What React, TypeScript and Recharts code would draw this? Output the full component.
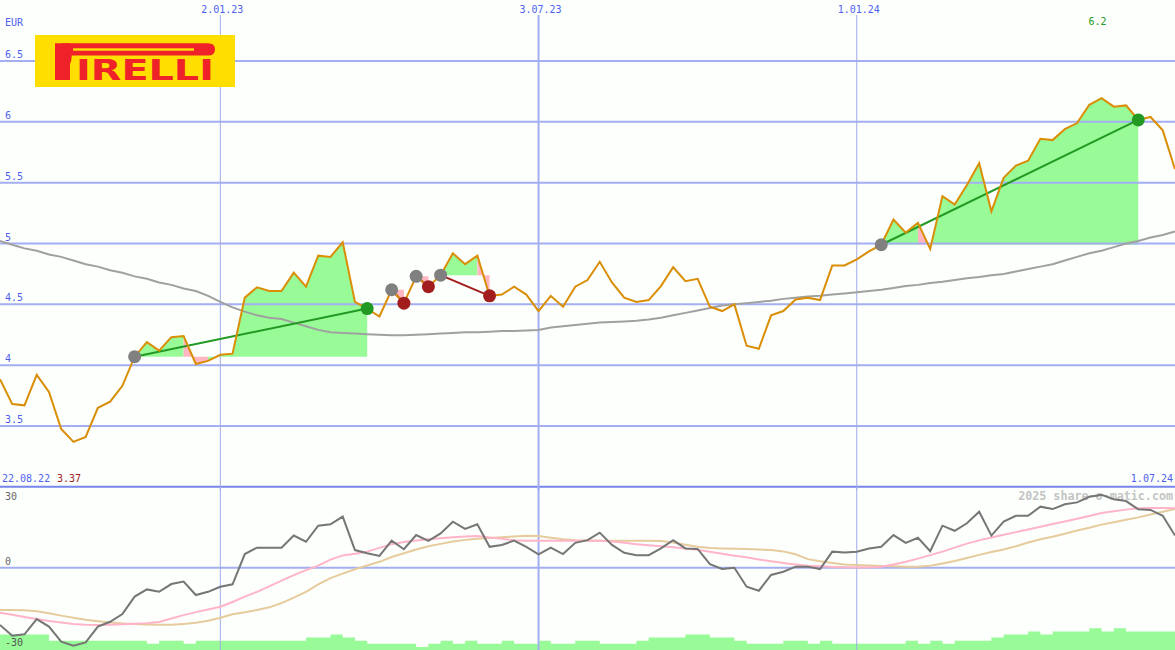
import React from 'react';
import { ComposedChart, Line, Area, XAxis, YAxis, ReferenceLine, ReferenceDot } from 'recharts';

// ---------------- data ----------------
const currency = 'EUR';
const logoText = ['P', 'IRELLI'];
const startLabel = '22.08.22';
const endLabel = '1.07.24';
const watermark = '2025 share-o-matic.com';

const dateTicks = [
  { week: 18, label: '2.01.23', major: false },
  { week: 44, label: '3.07.23', major: true },
  { week: 70, label: '1.01.24', major: false },
];
const priceLevels = [3.5, 4, 4.5, 5, 5.5, 6, 6.5];
const priceLevelLabels = ['3.5', '4', '4.5', '5', '5.5', '6', '6.5'];
const oscLevelLabels = ['30', '0', '-30'];

// weekly close (EUR)
const price = [
  3.885, 3.68, 3.67, 3.92, 3.78, 3.475, 3.37, 3.41, 3.65, 3.7,
  3.83, 4.07, 4.19, 4.12, 4.23, 4.24, 4.01, 4.035, 4.085, 4.095,
  4.555, 4.64, 4.61, 4.61, 4.76, 4.645, 4.9, 4.89, 5.01, 4.52,
  4.465, 4.4, 4.62, 4.51, 4.73, 4.645, 4.74, 4.92, 4.83, 4.9,
  4.57, 4.58, 4.645, 4.58, 4.445, 4.57, 4.48, 4.645, 4.7, 4.85,
  4.68, 4.555, 4.52, 4.535, 4.65, 4.805, 4.69, 4.71, 4.48, 4.445,
  4.5, 4.16, 4.135, 4.41, 4.445, 4.54, 4.555, 4.535, 4.82, 4.82,
  4.87, 4.935, 4.99, 5.197, 5.09, 5.17, 4.955, 5.39, 5.32, 5.48,
  5.66, 5.265, 5.54, 5.64, 5.68, 5.86, 5.85, 5.94, 5.99, 6.14,
  6.195, 6.125, 6.135, 6.016, 6.04, 5.93, 5.61,
];

// long moving average
const avgPrice = [
  5.02, 4.99, 4.96, 4.94, 4.91, 4.89, 4.86, 4.83, 4.81, 4.78,
  4.76, 4.73, 4.71, 4.68, 4.66, 4.63, 4.61, 4.57, 4.52, 4.475,
  4.44, 4.41, 4.39, 4.38, 4.35, 4.32, 4.29, 4.27, 4.265, 4.26,
  4.255, 4.25, 4.245, 4.245, 4.25, 4.255, 4.26, 4.265, 4.27, 4.27,
  4.275, 4.28, 4.28, 4.285, 4.29, 4.31, 4.32, 4.33, 4.34, 4.35,
  4.355, 4.36, 4.365, 4.375, 4.39, 4.41, 4.43, 4.45, 4.47, 4.49,
  4.5, 4.51, 4.52, 4.53, 4.545, 4.555, 4.565, 4.57, 4.58, 4.59,
  4.6, 4.61, 4.62, 4.635, 4.65, 4.66, 4.675, 4.685, 4.7, 4.715,
  4.725, 4.74, 4.75, 4.77, 4.79, 4.81, 4.83, 4.86, 4.89, 4.92,
  4.94, 4.97, 5.0, 5.02, 5.05, 5.07, 5.1,
];

// oscillator
const osc = [
  -21.4, -25.4, -24.9, -19.2, -22, -27.6, -29.1, -27.9, -22, -20.2,
  -17.3, -10.8, -8.1, -9, -6.1, -5.2, -10.2, -9, -7.1, -6.2,
  5.1, 7.5, 7.5, 7.5, 12, 9.7, 15.7, 16.2, 19.1, 6.6,
  5.4, 4.4, 10.1, 6.9, 12.2, 10, 12.8, 17.2, 14.5, 16.2,
  7.8, 8.5, 10.1, 7.8, 5, 7.5, 5.1, 9.3, 10.3, 13.1,
  8.5, 5.6, 4.7, 4.7, 7.2, 10.3, 7.2, 7, 1.3, -0.5,
  0, -7.1, -8.6, -2.7, -1.5, 0.4, 0.4, -0.5, 6, 5.7,
  6, 7.2, 7.8, 12.2, 9.3, 11.2, 6.2, 15.7, 13.8, 16.6,
  20.9, 12, 17.2, 19.4, 19.4, 22.8, 21.9, 23.7, 24.4, 26.5,
  27.2, 25.6, 24.9, 21.8, 21.6, 19.4, 12,
];
const oscFast = [
  -16.8, -17.6, -18.4, -19.2, -19.9, -20.5, -21.0, -21.3, -21.4, -21.3,
  -21.1, -20.9, -20.7, -20.3, -19.0, -17.7, -16.6, -15.6, -14.6, -12.8,
  -10.8, -9.0, -7.0, -4.8, -2.8, -0.9, 0.8, 3.0, 4.6, 5.2,
  6.0, 7.4, 8.8, 9.6, 10.2, 10.6, 11.0, 11.4, 11.7, 11.8,
  11.3, 10.8, 10.3, 10.1, 10.1, 10.1, 10.1, 10.1, 10.1, 10.1,
  9.8, 9.3, 8.8, 8.4, 8.0, 7.6, 7.2, 6.7, 6.0, 5.2,
  4.5, 3.9, 3.1, 2.4, 1.8, 1.2, 0.7, 0.5, 0.3, 0.2,
  0.1, 0.2, 0.4, 1.2, 2.2, 3.4, 4.7, 6.0, 7.5, 9.0,
  10.2, 11.3, 12.3, 13.3, 14.3, 15.3, 16.3, 17.3, 18.3, 19.3,
  20.4, 21.1, 21.7, 22.2, 22.3, 22.3, 22.2,
];
const oscSlow = [
  -15.8, -15.8, -15.9, -16.3, -17.0, -17.9, -18.7, -19.4, -20.0, -20.5,
  -20.8, -21.0, -21.2, -21.3, -21.3, -21.0, -20.6, -19.8, -18.7, -17.4,
  -16.6, -15.8, -14.8, -13.2, -11.2, -9.0, -6.2, -3.9, -2.2, -0.6,
  0.8, 2.2, 4.0, 5.4, 6.8, 8.0, 8.9, 9.8, 10.4, 10.8,
  11.1, 11.4, 11.7, 11.9, 11.8, 11.2, 10.6, 10.3, 10.2, 10.1,
  10.1, 10.1, 10.1, 10.1, 10.0, 9.4, 8.6, 7.8, 7.4, 7.2,
  7.1, 7.0, 6.8, 6.6, 6.1, 5.0, 3.2, 2.4, 1.8, 1.2,
  1.0, 0.8, 0.6, 0.5, 0.4, 0.4, 0.7, 1.6, 2.5, 3.6,
  4.8, 5.9, 6.8, 8.0, 9.4, 10.6, 11.6, 12.7, 13.9, 14.9,
  16.1, 17.0, 17.9, 18.8, 19.9, 20.9, 21.9,
];
// relative volume
const volume = [
  5, 5, 5, 5, 3, 3, 3, 3, 3, 3,
  3, 3, 2, 3, 3, 2, 3, 3, 3, 3,
  3, 3, 3, 3, 3, 4, 4, 5, 4, 3,
  2, 2, 2, 2, 1, 2, 3, 2, 3, 2,
  2, 3, 2, 2, 3, 2, 2, 3, 3, 2,
  2, 2, 3, 4, 4, 4, 5, 5, 4, 4,
  3, 2, 2, 2, 3, 3, 2, 3, 2, 2,
  2, 2, 2, 2, 3, 2, 3, 2, 3, 3,
  3, 4, 5, 5, 6, 5, 6, 6, 6, 7,
  6, 7, 6, 6, 6, 6, 6,
];
// trades (week index of entry / exit)
const trades = [
  { entry: 11, exit: 30 },
  { entry: 32, exit: 33 },
  { entry: 34, exit: 35 },
  { entry: 36, exit: 40 },
  { entry: 72, exit: 93 },
];

// ---------------- layout / style ----------------
const W = 1175;
const TOP_H = 490;
const EUR_PX = 121.67;
const Y_MAX = 7.0014;
const Y_MIN = Y_MAX - TOP_H / EUR_PX;
const X_MAX = price.length - 1;
const BOT_TOP = 487;
const BOT_H = 163;
const OSC_PX = 2.677;
const OSC_MAX = 30.15;
const OSC_MIN = OSC_MAX - BOT_H / OSC_PX;
const VOL_MAX = BOT_H / 3.1;

const BG = '#fcfffc';
const GRID = '#a4aef2';
const GRID_THIN = '#a2a9ea';
const SEP = '#7886ec';
const BLUE = '#4f5ff0';
const GREEN_FILL = '#98fb98';
const PINK_FILL = '#ffb6c1';
const WIN = '#229922';
const LOSS = '#a21d1d';
const ENTRY = '#808080';
const LOGO_RED = '#ee2228';
const LOGO_YELLOW = '#ffde00';
const MONO = '"DejaVu Sans Mono", monospace';

// ---------------- derived table ----------------
type Run = { key: string; color: string; start: number; end: number; level: number };
const runs: Run[] = [];
trades.forEach((t) => {
  const L = price[t.entry];
  let cur: Run | null = null;
  for (let j = t.entry; j < t.exit; j++) {
    const color = price[j + 1] >= L ? GREEN_FILL : PINK_FILL;
    if (!cur || cur.color !== color) {
      if (cur) runs.push(cur);
      cur = { key: `f${runs.length}`, color, start: j, end: j + 1, level: L };
    } else {
      cur.end = j + 1;
    }
  }
  if (cur) runs.push(cur);
});

const rows = price.map((p, i) => {
  const r: Record<string, any> = {
    week: i,
    price: p,
    avg: avgPrice[i],
    osc: osc[i],
    fast: oscFast[i],
    slow: oscSlow[i],
    vol: volume[i],
  };
  runs.forEach((run) => {
    r[run.key] = i >= run.start && i <= run.end ? [run.level, p] : null;
  });
  trades.forEach((t, k) => {
    r[`t${k}`] = i === t.entry || i === t.exit ? p : null;
  });
  return r;
});

const maxIdx = price.indexOf(Math.max(...price));
const minVal = Math.min(...price);

export default function App() {
  const topLineY = Y_MAX - 15 / EUR_PX;
  return (
    <div style={{ position: 'absolute', left: 0, top: 0, width: W, height: 650, background: BG, overflow: 'hidden' }}>
      <svg width={W} height={650} style={{ position: 'absolute', left: 0, top: 0 }}>
        <text x={1173} y={500} textAnchor="end" fontFamily={MONO} fontWeight="bold" fontSize={11.7} fill="#c4c4c4">
          {watermark}
        </text>
      </svg>

      <div style={{ position: 'absolute', left: 0, top: 0 }}>
        <ComposedChart width={W} height={TOP_H} data={rows} margin={{ top: 0, right: 0, bottom: 0, left: 0 }}>
          <XAxis type="number" dataKey="week" domain={[0, X_MAX]} hide allowDataOverflow />
          <YAxis type="number" domain={[Y_MIN, Y_MAX]} hide allowDataOverflow />
          {priceLevels.map((lv) => (
            <ReferenceLine key={`lv${lv}`} y={lv} stroke={GRID} strokeWidth={2} />
          ))}
          <ReferenceLine y={3} stroke={SEP} strokeWidth={2} />
          {dateTicks.map((t) => (
            <ReferenceLine
              key={`vt${t.week}`}
              segment={[{ x: t.week, y: topLineY }, { x: t.week, y: Y_MIN }]}
              stroke={t.major ? GRID : GRID_THIN}
              strokeWidth={t.major ? 2 : 1}
            />
          ))}
          {runs.map((run) => (
            <Area
              key={run.key}
              dataKey={run.key}
              type="linear"
              stroke="none"
              fill={run.color}
              fillOpacity={1}
              dot={false}
              activeDot={false}
              isAnimationActive={false}
            />
          ))}
          <Line dataKey="avg" type="linear" stroke="#a0a0a0" strokeWidth={2} dot={false} activeDot={false} isAnimationActive={false} />
          {trades.map((t, k) => {
            const win = price[t.exit] > price[t.entry];
            return (
              <Line
                key={`t${k}`}
                dataKey={`t${k}`}
                type="linear"
                connectNulls
                stroke={win ? WIN : LOSS}
                strokeWidth={2}
                activeDot={false}
                isAnimationActive={false}
                dot={(props: any) => {
                  const { cx, cy, index } = props;
                  const key = `d${k}-${index}`;
                  if (cy == null || cx == null || (index !== t.entry && index !== t.exit)) return <g key={key} />;
                  const fill = index === t.entry ? ENTRY : win ? WIN : LOSS;
                  return <circle key={key} cx={cx} cy={cy} r={6.5} fill={fill} />;
                }}
              />
            );
          })}
          <Line dataKey="price" type="linear" stroke="#d98e06" strokeWidth={2} dot={false} activeDot={false} isAnimationActive={false} />
          {priceLevels.map((lv, n) => (
            <ReferenceDot
              key={`ll${lv}`}
              x={0}
              y={lv}
              r={1}
              ifOverflow="visible"
              shape={(p: any) => (
                <text x={p.cx + 5} y={p.cy - 3} fontFamily={MONO} fontSize={10} fill={BLUE}>
                  {priceLevelLabels[n]}
                </text>
              )}
            />
          ))}
          {dateTicks.map((t) => (
            <ReferenceDot
              key={`dl${t.week}`}
              x={t.week}
              y={Y_MAX}
              r={1}
              ifOverflow="visible"
              shape={(p: any) => (
                <text x={p.cx + 2} y={12.5} textAnchor="middle" fontFamily={MONO} fontSize={10} fill={BLUE}>
                  {t.label}
                </text>
              )}
            />
          ))}
          <ReferenceDot
            x={maxIdx}
            y={Y_MAX}
            r={1}
            ifOverflow="visible"
            shape={(p: any) => (
              <text x={p.cx - 4} y={25} textAnchor="middle" fontFamily={MONO} fontSize={10} fill={WIN}>
                {price[maxIdx].toFixed(1)}
              </text>
            )}
          />
        </ComposedChart>
      </div>

      <div style={{ position: 'absolute', left: 0, top: BOT_TOP }}>
        <ComposedChart width={W} height={BOT_H} data={rows} margin={{ top: 0, right: 0, bottom: 0, left: 0 }}>
          <XAxis type="number" dataKey="week" domain={[0, X_MAX]} hide allowDataOverflow />
          <YAxis yAxisId="osc" type="number" domain={[OSC_MIN, OSC_MAX]} hide allowDataOverflow />
          <YAxis yAxisId="vol" type="number" domain={[0, VOL_MAX]} hide allowDataOverflow />
          <ReferenceLine yAxisId="osc" y={0} stroke={GRID} strokeWidth={2} />
          {dateTicks.map((t) => (
            <ReferenceLine
              key={`bvt${t.week}`}
              yAxisId="osc"
              x={t.week}
              stroke={t.major ? GRID : GRID_THIN}
              strokeWidth={t.major ? 2 : 1}
            />
          ))}
          <Area
            yAxisId="vol"
            dataKey="vol"
            type="stepAfter"
            stroke="none"
            fill={GREEN_FILL}
            fillOpacity={1}
            baseValue={0}
            dot={false}
            activeDot={false}
            isAnimationActive={false}
          />
          <Line yAxisId="osc" dataKey="slow" type="linear" stroke="#e6cb9c" strokeWidth={2} dot={false} activeDot={false} isAnimationActive={false} />
          <Line yAxisId="osc" dataKey="fast" type="linear" stroke="#ffb4c8" strokeWidth={2} dot={false} activeDot={false} isAnimationActive={false} />
          <Line yAxisId="osc" dataKey="osc" type="linear" stroke="#767676" strokeWidth={2} dot={false} activeDot={false} isAnimationActive={false} />
        </ComposedChart>
      </div>

      <svg width={W} height={650} style={{ position: 'absolute', left: 0, top: 0, pointerEvents: 'none' }}>
        <text x={5} y={25.5} fontFamily={MONO} fontSize={10} fill={BLUE}>{currency}</text>
        <text x={2} y={482} fontFamily={MONO} fontSize={10} fill={BLUE}>{startLabel}</text>
        <text x={57} y={482} fontFamily={MONO} fontSize={10} fill={LOSS}>{minVal.toFixed(2)}</text>
        <text x={1173} y={482} textAnchor="end" fontFamily={MONO} fontSize={10} fill={BLUE}>{endLabel}</text>
        <text x={5} y={500} fontFamily={MONO} fontSize={10} fill="#666">{oscLevelLabels[0]}</text>
        <text x={5} y={565} fontFamily={MONO} fontSize={10} fill="#666">{oscLevelLabels[1]}</text>
        <text x={5} y={645.5} fontFamily={MONO} fontSize={10} fill="#555">{oscLevelLabels[2]}</text>

        <rect x={35} y={35} width={200} height={52} fill={LOGO_YELLOW} />
        <text
          transform="translate(55,80) scale(0.48,1)"
          fontFamily='"DejaVu Sans", sans-serif'
          fontWeight="bold"
          fontSize={50}
          fill={LOGO_RED}
        >
          {logoText[0]}
        </text>
        <text
          x={76}
          y={80}
          fontFamily='"DejaVu Sans", sans-serif'
          fontWeight="bold"
          fontSize={27.5}
          textLength={138}
          lengthAdjust="spacingAndGlyphs"
          fill={LOGO_RED}
        >
          {logoText[1]}
        </text>
        <rect x={55} y={43.3} width={15} height={36.7} fill={LOGO_RED} />
        <path d="M62 43.3 H208 Q215 43.3 215 49.4 Q215 55.5 208 55.5 H62 Z" fill={LOGO_RED} />
        <rect x={73} y={48.3} width={121} height={2.4} fill={LOGO_YELLOW} />
      </svg>
    </div>
  );
}
